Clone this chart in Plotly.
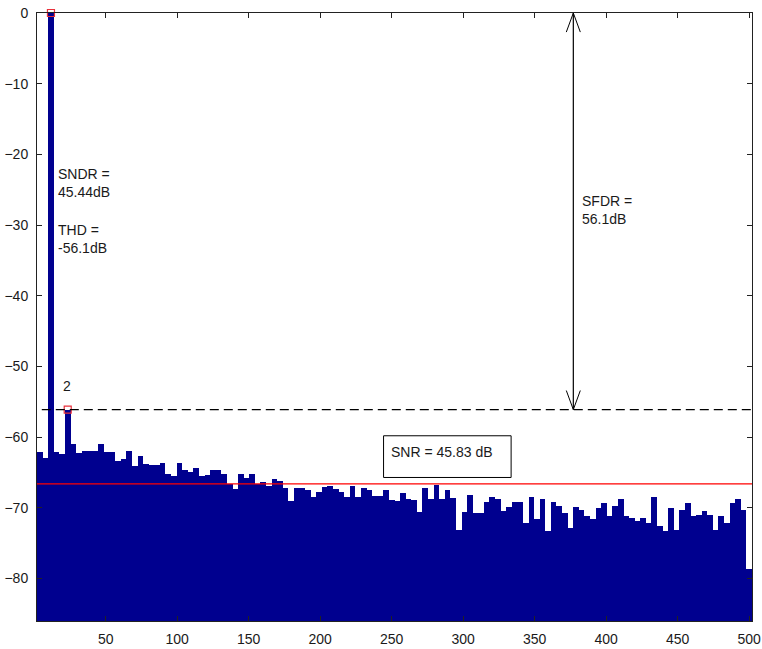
import numpy as np
import plotly.graph_objects as go

# ---- data ----
N_BINS = 128
FS_HALF = 500.0
bin_index = list(range(1, N_BINS + 1))
spectrum_db = [
    -62.1, -62.9, 0.0, -62.1, -62.4, -56.1, -61.0, -62.2, -61.9, -61.9,
    -61.9, -61.0, -62.1, -62.1, -63.3, -63.1, -61.9, -64.1, -62.6, -63.8,
    -64.0, -64.0, -63.7, -65.2, -65.5, -63.7, -64.7, -64.9, -64.4, -65.5,
    -65.4, -64.6, -64.7, -65.2, -66.6, -67.3, -65.2, -65.8, -65.2, -66.6,
    -66.4, -66.9, -65.9, -66.2, -67.2, -69.0, -67.2, -67.2, -67.4, -68.4,
    -67.7, -67.0, -66.9, -67.3, -67.8, -68.4, -66.9, -68.4, -67.2, -67.5,
    -68.3, -68.3, -67.4, -68.9, -69.0, -67.9, -68.8, -68.9, -70.6, -67.2,
    -68.8, -66.7, -68.8, -67.4, -68.6, -73.1, -70.6, -68.2, -70.7, -70.7,
    -69.2, -68.4, -68.8, -70.5, -69.9, -69.2, -69.2, -72.2, -68.5, -71.6,
    -68.8, -73.3, -69.1, -69.8, -70.7, -72.8, -69.9, -70.3, -71.2, -71.6,
    -70.0, -69.3, -71.2, -69.8, -68.7, -71.2, -71.5, -71.8, -71.5, -72.2,
    -68.5, -72.6, -73.2, -70.0, -73.1, -70.3, -69.3, -71.2, -71.0, -70.5,
    -71.0, -73.1, -71.1, -72.2, -69.3, -68.8, -70.3, -78.7,
]
harmonic_bins = [3, 6]          # fundamental and 2nd harmonic (1-based bins)
harmonic_labels = ["", "2"]
noise_floor_db = -66.6
sfdr_db = 56.1
x_ticks = [50, 100, 150, 200, 250, 300, 350, 400, 450, 500]
y_ticks = [-80, -70, -60, -50, -40, -30, -20, -10, 0]
y_min = -86.0

sndr_text = "SNDR =<br>45.44dB"
thd_text = "THD =<br>-56.1dB"
sfdr_text = "SFDR =<br>56.1dB"
snr_text = "SNR = 45.83 dB"

# ---- derived ----
bin_w = FS_HALF / N_BINS
freqs = np.array(bin_index) * bin_w
vals = np.array(spectrum_db)
x_lo = freqs[0] - bin_w / 2
x_hi = freqs[-1] + bin_w / 2

FONT = "Liberation Sans, Arial, sans-serif"
TXT = "#1a1a1a"

fig = go.Figure()
fig.add_trace(go.Bar(
    x=freqs, y=vals - y_min, base=y_min, width=bin_w,
    marker=dict(color="#00008F", line=dict(width=0)),
    hoverinfo="skip", showlegend=False,
))

hx = [freqs[b - 1] for b in harmonic_bins]
hy = [vals[b - 1] for b in harmonic_bins]
fig.add_trace(go.Scatter(
    x=hx, y=hy, mode="markers",
    marker=dict(symbol="square-open", size=7, color="#e8303a", line=dict(width=1.2)),
    cliponaxis=False, hoverinfo="skip", showlegend=False,
))

top_db = vals.max()
spur_db = top_db - sfdr_db
arrow_x = 377.0

shapes = []
# noise floor red line
shapes.append(dict(type="line", xref="x", yref="y", x0=x_lo, x1=x_hi,
                   y0=noise_floor_db, y1=noise_floor_db,
                   line=dict(color="#ff0000", width=1.4)))
# SFDR dashed line
shapes.append(dict(type="line", xref="x", yref="y", x0=5.3, x1=x_hi,
                   y0=spur_db, y1=spur_db,
                   line=dict(color="black", width=1.2, dash="9px,5px")))
# SFDR arrow
shapes.append(dict(type="line", xref="x", yref="y", x0=arrow_x, x1=arrow_x,
                   y0=top_db, y1=spur_db, line=dict(color="black", width=1.2)))
hw, hl = 4.9, 2.7
for tip, d in [(top_db, -1), (spur_db, 1)]:
    for s in (-1, 1):
        shapes.append(dict(type="line", xref="x", yref="y",
                           x0=arrow_x, y0=tip, x1=arrow_x + s * hw, y1=tip + d * hl,
                           line=dict(color="black", width=1)))
# SNR box
shapes.append(dict(type="rect", xref="x", yref="y", x0=244.3, x1=333.5,
                   y0=-59.8, y1=-65.7, line=dict(color="black", width=1),
                   fillcolor="white", layer="above"))

annotations = [
    dict(x=15.5, y=-24.1, text=sndr_text, xanchor="left", yanchor="middle", align="left"),
    dict(x=15.5, y=-32.0, text=thd_text, xanchor="left", yanchor="middle", align="left"),
    dict(x=381.5, y=-27.9, text=sfdr_text, xanchor="left", yanchor="middle", align="left"),
    dict(x=248.3, y=-62.1, text=snr_text, xanchor="left", yanchor="middle", align="left"),
]
for b, lab in zip(harmonic_bins, harmonic_labels):
    if lab:
        annotations.append(dict(x=freqs[b - 1] - 0.6, y=vals[b - 1] + 3.4, text=lab,
                                xanchor="center", yanchor="middle"))
for a in annotations:
    a.update(xref="x", yref="y", showarrow=False, font=dict(family=FONT, size=14, color=TXT))

axis_common = dict(
    showgrid=False, zeroline=False, showline=True, linecolor="#222", linewidth=1,
    mirror="ticks", ticks="inside", ticklen=5, tickwidth=1, tickcolor="#222",
    tickfont=dict(family=FONT, size=14, color=TXT), automargin=False,
)
fig.update_layout(
    width=762, height=649,
    margin=dict(l=37, r=10, t=13, b=28),
    paper_bgcolor="white", plot_bgcolor="white",
    bargap=0, showlegend=False,
    shapes=shapes, annotations=annotations,
    xaxis=dict(range=[x_lo, x_hi], tickvals=x_ticks, ticklabelstandoff=5, **axis_common),
    yaxis=dict(range=[y_min, 0], tickvals=y_ticks, ticklabelstandoff=5, **axis_common),
)
fig.write_html("out.html")
